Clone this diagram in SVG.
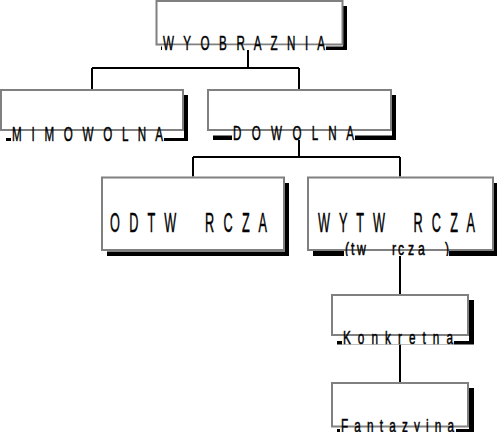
<svg xmlns="http://www.w3.org/2000/svg" width="497" height="444" viewBox="0 0 497 444">
<style>
.sh{fill:#000}
.bg{fill:#fff}
.bx{fill:none;stroke:#808080;stroke-width:2}
.t{font-family:"Liberation Sans",Arial,sans-serif;fill:#000;stroke:#000;stroke-width:0.5}
.conn path{stroke:#000;stroke-width:2;fill:none}
</style>
<defs>
<clipPath id="c5"><rect x="300" y="170" width="197" height="86"/></clipPath>
<clipPath id="c7"><rect x="320" y="380" width="177" height="52"/></clipPath>
</defs>
<rect width="497" height="444" fill="#fff"/>
<g class="conn">
<path d="M248 45V68M92 68H299M92 68V90M299 68V90"/>
<path d="M299 140V157M193 157H400M193 157V177M400 157V177"/>
<path d="M400 256V295M400 344V383"/>
</g>
<g id="n1">
<rect class="sh" x="161" y="6" width="186" height="44"/>
<rect class="bg" x="156" y="0" width="187" height="46.5"/>
<rect class="bx" x="156.5" y="1" width="186" height="43.5"/>
<rect class="bg" x="162" y="45.5" width="164" height="4.5"/>
<text class="t" font-size="20" transform="scale(0.58,1)" x="281" y="50" textLength="279.3" lengthAdjust="spacing">W Y O B R A Z N I A</text>
</g>
<g id="n2">
<rect class="sh" x="6" y="95" width="182" height="46"/>
<rect class="bg" x="0" y="89" width="184" height="49"/>
<rect class="bx" x="1" y="90" width="182" height="40"/>
<rect class="bg" x="11" y="131" width="153" height="10"/>
<text class="t" font-size="20" transform="scale(0.58,1)" x="20.7" y="141" textLength="260.3" lengthAdjust="spacing">M I M O W O L N A</text>
</g>
<g id="n3">
<rect class="sh" x="213" y="95" width="183" height="45"/>
<rect class="bg" x="207" y="89" width="185" height="46.5"/>
<rect class="bx" x="208" y="90" width="183" height="40"/>
<rect class="bg" x="232" y="131" width="123" height="9"/>
<text class="t" font-size="20" transform="scale(0.58,1)" x="401.7" y="140" textLength="208.6" lengthAdjust="spacing">D O W O L N A</text>
</g>
<g id="n4">
<rect class="sh" x="107" y="183" width="182" height="73"/>
<rect class="bg" x="101" y="176.5" width="184" height="75"/>
<rect class="bx" x="102" y="177.5" width="182" height="72.5"/>
<text class="t" font-size="27" transform="scale(0.47,1)" x="234" y="232" textLength="334" lengthAdjust="spacing" xml:space="preserve">O D T W    R C Z A</text>
</g>
<g id="n5">
<rect class="sh" x="313" y="183" width="185" height="73"/>
<rect class="bg" x="307" y="176.5" width="187" height="74.5"/>
<rect class="bx" x="308" y="177.5" width="185" height="72.5"/>
<rect class="bg" x="344" y="251" width="105" height="5"/>
<text class="t" font-size="27" transform="scale(0.47,1)" x="676.6" y="232" textLength="334" lengthAdjust="spacing" xml:space="preserve">W Y T W    R C Z A</text>
<g clip-path="url(#c5)">
<text class="t" font-size="18" transform="scale(0.68,1)" x="507.4 516.2 525 544.1 576.5 585.3 600 614.7 654.4" y="255.5">(tw rcza)</text>
</g>
</g>
<g id="n6">
<rect class="sh" x="337" y="300" width="137" height="44.5"/>
<rect class="bg" x="331" y="294" width="138" height="47"/>
<rect class="bx" x="332" y="295" width="136" height="40"/>
<rect class="bg" x="342" y="336" width="112" height="8.5"/>
<text class="t" font-size="19" transform="scale(0.62,1)" x="553.2" y="344.5" textLength="177.4" lengthAdjust="spacing">K o n k r e t n a</text>
</g>
<g id="n7">
<rect class="sh" x="337" y="388" width="137" height="44"/>
<rect class="bg" x="331" y="382" width="138" height="47"/>
<rect class="bx" x="332" y="383" width="136" height="43.5"/>
<rect class="bg" x="340" y="428.5" width="116" height="3.5"/>
<g clip-path="url(#c7)">
<text class="t" font-size="19" transform="scale(0.62,1)" x="550" y="432" textLength="182.3" lengthAdjust="spacing">F a n t a z y j n a</text>
</g>
</g>
</svg>
